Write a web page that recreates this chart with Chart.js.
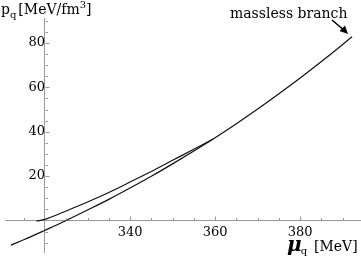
<!DOCTYPE html>
<html>
<head>
<meta charset="utf-8">
<script src="https://cdn.jsdelivr.net/npm/chart.js@4/dist/chart.umd.min.js"></script>
<style>
  html, body { margin: 0; padding: 0; background: #fff; }
  #wrap { width: 361px; height: 257px; }
</style>
</head>
<body>
<div id="wrap"><canvas id="c"></canvas></div>
<script>
// values (mu in MeV, p in MeV/fm^3)
const muMassless = [312, 315, 320, 325, 330, 335, 340, 345, 350, 355, 360, 365, 370, 375, 380, 385, 390, 392.2];
const pMassless  = [-11.1, -8.7, -4.4, 0, 4.7, 9.5, 14.6, 19.9, 25.5, 31.3, 37.3, 43.6, 50.2, 57.1, 64.2, 71.6, 79.3, 82.8];

const muMassive = [318, 320, 325, 330, 335, 340, 345, 350, 355, 359.5];
const pMassive  = [-0.3, 0.5, 4.3, 8.3, 12.6, 17.3, 22.1, 27.1, 32.1, 36.7];

const xLabels = [340, 360, 380];
const yLabels = [20, 40, 60, 80];

const toPoints = (xs, ys) => xs.map((v, i) => ({ x: v, y: ys[i] }));

const serif = '"DejaVu Serif", serif';
const axisGray = '#999';

// axes sit inside the plot, so they should not take any room
const noRoom = s => {
  s.paddingTop = 0; s.paddingBottom = 0; s.paddingLeft = 0; s.paddingRight = 0;
  if (s.isHorizontal()) s.height = 0; else s.width = 0;
};

// tick marks drawn inward like the original, plus titles and the arrow note
const decor = {
  id: 'decor',
  afterDraw(chart) {
    const { ctx, scales: { x, y } } = chart;
    const x0 = Math.round(x.getPixelForValue(320)) + 0.5;
    const y0 = Math.round(y.getPixelForValue(0)) + 0.5;
    ctx.save();
    ctx.strokeStyle = axisGray;
    ctx.lineWidth = 1;
    ctx.beginPath();
    x.ticks.forEach(t => {
      if (t.value === 320) return;
      const px = Math.round(x.getPixelForValue(t.value)) + 0.5;
      const len = t.value % 20 === 0 ? 4 : 2.5;
      ctx.moveTo(px, y0);
      ctx.lineTo(px, y0 - len);
    });
    y.ticks.forEach(t => {
      if (t.value === 0) return;
      const py = Math.round(y.getPixelForValue(t.value)) + 0.5;
      const len = t.value % 20 === 0 ? 4 : 2.5;
      ctx.moveTo(x0, py);
      ctx.lineTo(x0 + len, py);
    });
    ctx.stroke();

    ctx.fillStyle = '#000';
    ctx.textBaseline = 'alphabetic';
    ctx.textAlign = 'left';

    // y title: p_q [MeV/fm^3]
    let cx = 1;
    ctx.font = '14px ' + serif;
    ctx.fillText('p', cx, 14); cx += ctx.measureText('p').width;
    ctx.font = '10px ' + serif;
    ctx.fillText('q', cx, 18); cx += ctx.measureText('q').width + 2;
    ctx.font = '14px ' + serif;
    ctx.fillText('[MeV/fm', cx, 14); cx += ctx.measureText('[MeV/fm').width;
    ctx.font = '10px ' + serif;
    ctx.fillText('3', cx, 8); cx += ctx.measureText('3').width;
    ctx.font = '14px ' + serif;
    ctx.fillText(']', cx, 14);

    // x title: mu_q [MeV]
    cx = 287;
    ctx.font = 'italic bold 20px ' + serif;
    ctx.fillText('\u03bc', cx, 251); cx += ctx.measureText('\u03bc').width - 1;
    ctx.font = '10px ' + serif;
    ctx.fillText('q', cx, 254);
    ctx.font = '14px ' + serif;
    ctx.fillText('[MeV]', 314, 251);

    // annotation
    ctx.font = '14px ' + serif;
    ctx.fillText('massless branch', 230, 18);
    ctx.strokeStyle = '#000';
    ctx.lineWidth = 1.6;
    ctx.beginPath();
    ctx.moveTo(332, 20);
    ctx.lineTo(345, 31);
    ctx.stroke();
    ctx.beginPath();
    ctx.moveTo(348, 34);
    ctx.lineTo(339.5, 31);
    ctx.lineTo(345, 25.5);
    ctx.closePath();
    ctx.fill();
    ctx.restore();
  }
};

new Chart(document.getElementById('c'), {
  type: 'line',
  data: {
    datasets: [
      {
        label: 'massless',
        data: toPoints(muMassless, pMassless),
        borderColor: '#111',
        borderWidth: 1.2,
        pointRadius: 0,
        fill: false,
        cubicInterpolationMode: 'monotone'
      },
      {
        label: 'massive',
        data: toPoints(muMassive, pMassive),
        borderColor: '#111',
        borderWidth: 1.2,
        pointRadius: 0,
        fill: false,
        cubicInterpolationMode: 'monotone'
      }
    ]
  },
  options: {
    responsive: true,
    maintainAspectRatio: false,
    animation: false,
    layout: { padding: { left: 5, right: 0, top: 18.5, bottom: 5 } },
    plugins: { legend: { display: false }, tooltip: { enabled: false } },
    scales: {
      x: {
        type: 'linear',
        min: 310.6,
        max: 394.3,
        position: { y: 0 },
        afterFit: noRoom,
        grid: { display: false, drawTicks: false },
        border: { color: axisGray, width: 1 },
        ticks: {
          stepSize: 5,
          autoSkip: false,
          includeBounds: false,
          maxRotation: 0,
          padding: 4,
          color: '#000',
          font: { family: serif, size: 13 },
          callback: v => xLabels.includes(v) ? String(v) : ''
        }
      },
      y: {
        type: 'linear',
        min: -14.2,
        max: 91,
        position: { x: 320 },
        afterFit: noRoom,
        grid: { display: false, drawTicks: false },
        border: { color: axisGray, width: 1 },
        ticks: {
          stepSize: 5,
          autoSkip: false,
          includeBounds: false,
          padding: 3,
          color: '#000',
          font: { family: serif, size: 13 },
          callback: v => yLabels.includes(v) ? String(v) : ''
        }
      }
    }
  },
  plugins: [decor]
});
</script>
</body>
</html>
